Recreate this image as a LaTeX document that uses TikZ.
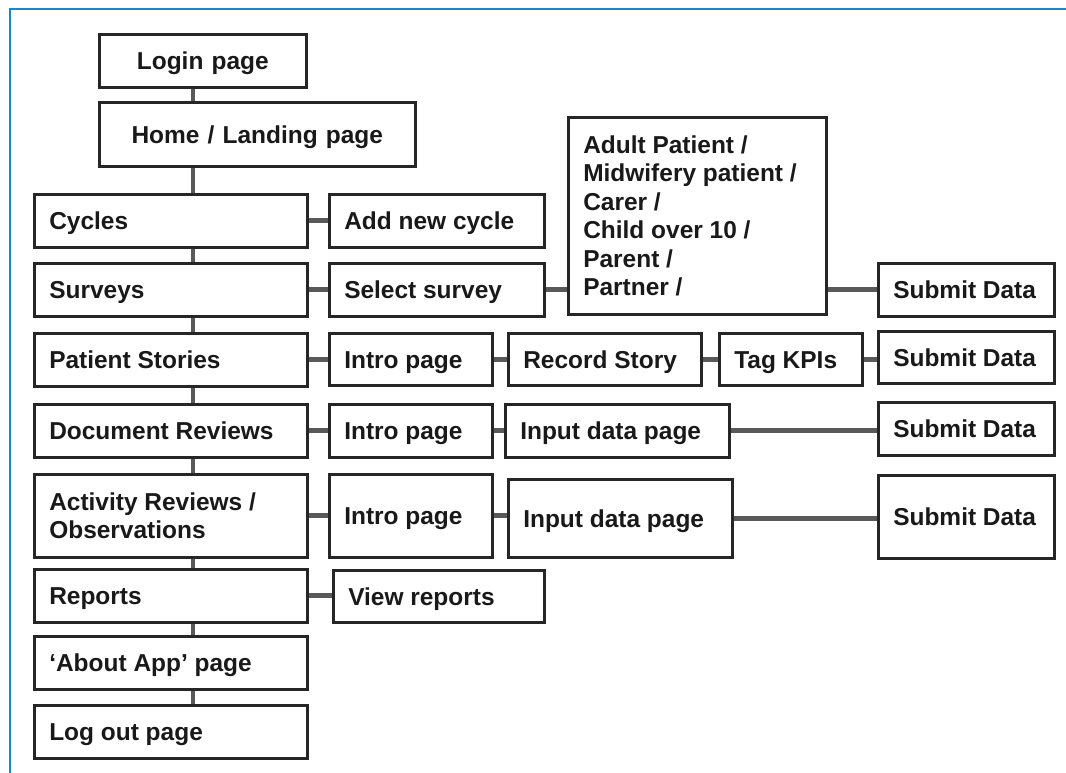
\documentclass[tikz,border=0pt]{standalone}
\usepackage{fontspec}
\setmainfont{Liberation Sans}
\usepackage{xcolor}

\definecolor{framecol}{RGB}{24,136,200}

\tikzset{
    pg/.style={draw=black!85, line width=1.8pt, anchor=north west,
        inner xsep=0.375cm, inner ysep=0pt, align=flush left,
        minimum height=1.325cm, text=black!90,
        text height=15pt, text depth=2.5pt,
        font=\bfseries\fontsize{17.4}{20.3}\selectfont},
    multi/.style={text height={}, text depth={}},
    menu/.style={pg, minimum width=6.825cm, text width=6.075cm},
    intro/.style={pg, minimum width=4.075cm, text width=3.325cm},
    submit/.style={pg, minimum width=4.4cm, text width=3.65cm},
    link/.style={draw=black!65, line width=3.4pt},
}

\begin{document}
\begin{tikzpicture}[x=0.025cm, y=-0.025cm]
        \useasboundingbox (0, 0) rectangle (1066, 773);
        \draw[framecol, line width=2pt] (1066, 9) -- (10, 9) -- (10, 773);

        % top of the app
        \node[pg, align=center, minimum width=5.175cm, text width=4.425cm] (login) at (98, 33) {Login page};
        \node[pg, align=center, minimum width=7.9cm, text width=7.15cm, minimum height=1.6cm] (home) at (98, 101) {Home / Landing page};

        % main menu
        \node[menu] (cycles) at (33, 193) {Cycles};
        \node[menu] (surveys) at (33, 262) {Surveys};
        \node[menu] (stories) at (33, 332) {Patient Stories};
        \node[menu] (docrev) at (33, 403) {Document Reviews};
        \node[menu, multi, minimum height=2.075cm] (actrev) at (33, 473) {Activity Reviews /\\Observations};
        \node[menu] (reports) at (33, 568) {Reports};
        \node[menu] (about) at (33, 635) {`About App' page};
        \node[menu] (logout) at (33, 704) {Log out page};

        % second level
        \node[pg, minimum width=5.375cm, text width=4.625cm] (addcycle) at (328, 193) {Add new cycle};
        \node[pg, minimum width=5.375cm, text width=4.625cm] (selsurvey) at (328, 262) {Select survey};
        \node[intro, minimum height=1.3cm] (introA) at (328, 332) {Intro page};
        \node[intro] (introB) at (328, 403) {Intro page};
        \node[intro, minimum height=2.075cm] (introC) at (328, 473) {Intro page};
        \node[pg, minimum width=5.275cm, text width=4.525cm, minimum height=1.3cm] (viewrep) at (332, 569) {View reports};

        % third level
        \node[pg, multi, minimum width=6.45cm, text width=5.7cm, minimum height=4.925cm] (respond) at (567, 116)
            {Adult Patient /\\Midwifery patient /\\Carer /\\Child over 10 /\\Parent /\\Partner /};
        \node[pg, minimum width=4.825cm, text width=4.075cm, minimum height=1.3cm] (record) at (507, 332) {Record Story};
        \node[pg, minimum width=3.575cm, text width=2.825cm, minimum height=1.3cm] (tagkpi) at (718, 332) {Tag KPIs};
        \node[pg, minimum width=5.6cm, text width=4.85cm] (inputA) at (504, 403) {Input data page};
        \node[pg, minimum width=5.6cm, text width=4.85cm, minimum height=1.95cm] (inputB) at (507, 478) {Input data page};

        \node[submit] (submitA) at (877, 262) {Submit Data};
        \node[submit, minimum height=1.3cm] (submitB) at (877, 330) {Submit Data};
        \node[submit] (submitC) at (877, 401) {Submit Data};
        \node[submit, minimum height=2.075cm] (submitD) at (877, 474) {Submit Data};

        % spine down the menu
        \coordinate (spine) at (193, 0);
        \foreach \a/\b in {login/home, home/cycles, cycles/surveys, surveys/stories, stories/docrev,
                docrev/actrev, actrev/reports, reports/about, about/logout}
            \draw[link] (\a.south -| spine) -- (\b.north -| spine);

        % links along each row
        \foreach \a/\b in {cycles/addcycle, surveys/selsurvey, selsurvey/respond,
                stories/introA, introA/record, record/tagkpi, tagkpi/submitB,
                docrev/introB, introB/inputA, inputA/submitC,
                actrev/introC, introC/inputB, inputB/submitD, reports/viewrep}
            \draw[link] (\a.east) -- (\a.east -| \b.west);
        \draw[link] (respond.east |- submitA.west) -- (submitA.west);
    \end{tikzpicture}
\end{document}
